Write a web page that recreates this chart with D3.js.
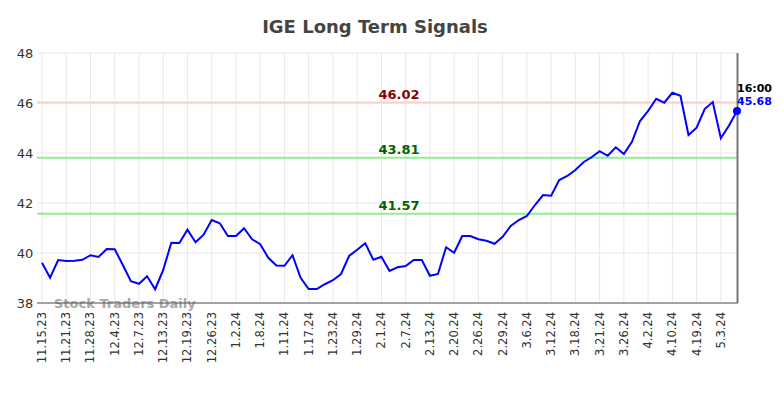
<!DOCTYPE html>
<html>
<head>
	<meta charset="utf-8">
	<title>IGE Long Term Signals</title>
	<script src="https://d3js.org/d3.v7.min.js"></script>
	<style>
		body { margin: 0; background: #fff; }
		text { font-family: "DejaVu Sans", sans-serif; }
	</style>
</head>
<body>
	<script>
		var width = 784, height = 398;
		var margin = {top: 53, right: 47, bottom: 95, left: 42};

		// closing prices, one point per sample
		var prices = [39.61, 39.01, 39.72, 39.68, 39.69, 39.73, 39.91, 39.84, 40.16, 40.15,
			39.52, 38.87, 38.77, 39.07, 38.55, 39.32, 40.41, 40.40, 40.93, 40.43,
			40.73, 41.32, 41.19, 40.68, 40.68, 40.99, 40.55, 40.35, 39.81, 39.50,
			39.49, 39.91, 39.01, 38.56, 38.56, 38.75, 38.91, 39.16, 39.88, 40.13,
			40.39, 39.73, 39.85, 39.28, 39.43, 39.48, 39.72, 39.72, 39.09, 39.16,
			40.23, 40.01, 40.68, 40.68, 40.55, 40.49, 40.37, 40.65, 41.08, 41.32,
			41.48, 41.92, 42.32, 42.29, 42.92, 43.08, 43.32, 43.63, 43.83, 44.07,
			43.89, 44.23, 43.96, 44.45, 45.28, 45.68, 46.17, 46.01, 46.41, 46.29,
			44.72, 45.01, 45.76, 46.04, 44.59, 45.09, 45.68];
		var tickLabels = ["11.15.23", "11.21.23", "11.28.23", "12.4.23", "12.7.23", "12.13.23",
			"12.19.23", "12.26.23", "1.2.24", "1.8.24", "1.11.24", "1.17.24", "1.23.24",
			"1.29.24", "2.1.24", "2.7.24", "2.13.24", "2.20.24", "2.26.24", "2.29.24",
			"3.6.24", "3.12.24", "3.18.24", "3.21.24", "3.26.24", "4.2.24", "4.10.24",
			"4.19.24", "5.3.24"];
		var tickStep = 3;
		var yTicks = [38, 40, 42, 44, 46, 48];
		var signals = [46.02, 43.81, 41.57];
		var signalKinds = ["resistance", "support", "support"];
		var lastTime = "16:00";

		var svg = d3.select("body").append("svg").attr("width", width).attr("height", height);

		var x = d3.scaleLinear().domain([0, prices.length - 1]).range([margin.left, width - margin.right]);
		var y = d3.scaleLinear().domain([38, 48]).range([height - margin.bottom, margin.top]);

		// title
		svg.append("text").attr("x", 375).attr("y", 33).attr("text-anchor", "middle")
			.attr("font-size", 18).attr("font-weight", "bold").attr("fill", "#444")
			.text("IGE Long Term Signals");

		// grid
		var tickIdx = tickLabels.map(function(d, i){ return i * tickStep; });
		svg.append("g").selectAll("line.v").data(tickIdx).enter().append("line")
			.attr("x1", function(d){ return x(d); }).attr("x2", function(d){ return x(d); })
			.attr("y1", margin.top).attr("y2", height - margin.bottom)
			.attr("stroke", "#e8e8e8").attr("stroke-width", 1);
		svg.append("g").selectAll("line.h").data(yTicks).enter().append("line")
			.attr("x1", 37).attr("x2", width - margin.right)
			.attr("y1", function(d){ return y(d); }).attr("y2", function(d){ return y(d); })
			.attr("stroke", "#e8e8e8").attr("stroke-width", 1);

		// y tick labels
		svg.append("g").selectAll("text").data(yTicks).enter().append("text")
			.attr("x", 25).attr("y", function(d){ return y(d) + 5; })
			.attr("text-anchor", "middle").attr("font-size", 13).attr("fill", "#333")
			.text(function(d){ return d; });

		// x tick labels
		svg.append("g").selectAll("text").data(tickLabels).enter().append("text")
			.attr("transform", function(d, i){ return "translate(" + (x(i * tickStep) + 4) + ",312) rotate(-90)"; })
			.attr("text-anchor", "end").attr("font-size", 11.5).attr("fill", "#333")
			.text(function(d){ return d; });

		// watermark
		svg.append("text").attr("x", 54).attr("y", 308).attr("font-size", 13).attr("font-weight", "bold")
			.attr("fill", "#999").attr("opacity", 0.85).text("Stock Traders Daily");

		// signal lines
		svg.append("g").selectAll("line").data(signals).enter().append("line")
			.attr("x1", 37).attr("x2", width - margin.right)
			.attr("y1", function(d){ return y(d); }).attr("y2", function(d){ return y(d); })
			.attr("stroke", function(d, i){ return signalKinds[i] == "resistance" ? "#ffcccc" : "#90ee90"; })
			.attr("stroke-width", 2);
		svg.append("g").selectAll("text").data(signals).enter().append("text")
			.attr("x", 399).attr("y", function(d){ return y(d) - 4; })
			.attr("text-anchor", "middle").attr("font-size", 13).attr("font-weight", "bold")
			.attr("fill", function(d, i){ return signalKinds[i] == "resistance" ? "#8b0000" : "#006400"; })
			.text(function(d){ return d.toFixed(2); });

		// axes frame
		svg.append("line").attr("x1", 37).attr("x2", width - margin.right + 1)
			.attr("y1", y(38)).attr("y2", y(38)).attr("stroke", "#555").attr("stroke-width", 1);
		svg.append("line").attr("x1", width - margin.right + 0.5).attr("x2", width - margin.right + 0.5)
			.attr("y1", margin.top).attr("y2", y(38)).attr("stroke", "#777").attr("stroke-width", 2);

		// price line
		var line = d3.line().x(function(d, i){ return x(i); }).y(function(d){ return y(d); });
		svg.append("path").datum(prices).attr("d", line)
			.attr("fill", "none").attr("stroke", "#0000ff").attr("stroke-width", 2);

		var last = prices.length - 1;
		svg.append("circle").attr("cx", x(last)).attr("cy", y(prices[last])).attr("r", 4).attr("fill", "#0000ff");
		svg.append("text").attr("x", x(last)).attr("y", 92).attr("font-size", 11).attr("font-weight", "bold")
			.attr("fill", "#000").text(lastTime);
		svg.append("text").attr("x", x(last)).attr("y", 105).attr("font-size", 11).attr("font-weight", "bold")
			.attr("fill", "#0000ff").text(prices[last].toFixed(2));
	</script>
</body>
</html>
